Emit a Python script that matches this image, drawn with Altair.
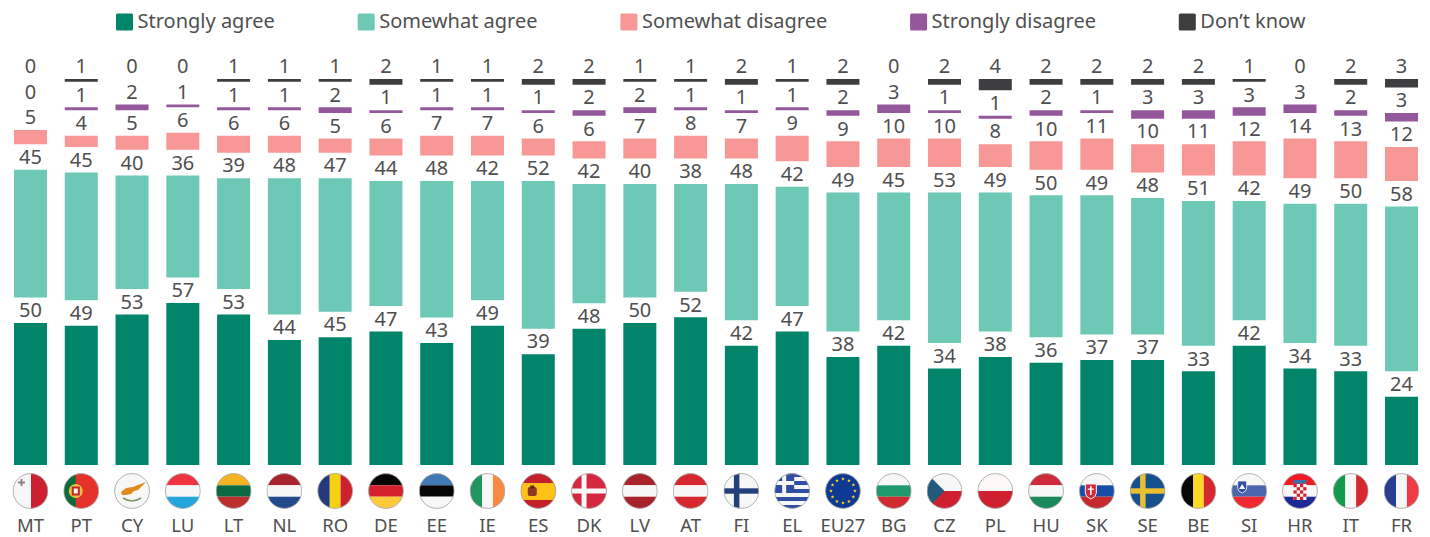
import base64, math
import altair as alt
import pandas as pd

countries = ["MT","PT","CY","LU","LT","NL","RO","DE","EE","IE","ES","DK","LV","AT","FI","EL","EU27","BG","CZ","PL","HU","SK","SE","BE","SI","HR","IT","FR"]
strongly_agree = [50,49,53,57,53,44,45,47,43,49,39,48,50,52,42,47,38,42,34,38,36,37,37,33,42,34,33,24]
somewhat_agree = [45,45,40,36,39,48,47,44,48,42,52,42,40,38,48,42,49,45,53,49,50,49,48,51,42,49,50,58]
somewhat_disagree = [5,4,5,6,6,6,5,6,7,7,6,6,7,8,7,9,9,10,10,8,10,11,10,11,12,14,13,12]
strongly_disagree = [0,1,2,1,1,1,2,1,1,1,1,2,2,1,1,1,2,3,1,1,2,1,3,3,3,3,2,3]
dont_know = [0,1,0,0,1,1,1,2,1,1,2,2,1,1,2,1,2,0,2,4,2,2,2,2,1,0,2,3]

series_names = ["Strongly agree","Somewhat agree","Somewhat disagree","Strongly disagree","Don\u2019t know"]
series_values = [strongly_agree, somewhat_agree, somewhat_disagree, strongly_disagree, dont_know]
series_colors = ["#00856b","#6dc9b6","#f79896","#95579b","#3e3e40"]
TEXT = "#4f4f4f"
FONT = "Noto Sans"
GAP = 8.98  # white space between segments that holds each value label, in percentage points
PX = 2.84   # pixels per percentage point


def rect(x, y, w, h, c):
    return f'<rect x="{x}" y="{y}" width="{w}" height="{h}" fill="{c}"/>'


def hs(a, b, c):
    return rect(0, 0, 36, 12.3, a) + rect(0, 12.3, 36, 11.4, b) + rect(0, 23.7, 36, 12.3, c)


def vs(a, b, c):
    return rect(0, 0, 12.6, 36, a) + rect(12.6, 0, 10.8, 36, b) + rect(23.4, 0, 12.6, 36, c)


def cross(bg, fg, vx=10.5, vw=5.5, hy=15.3, hh=5.4):
    return rect(0, 0, 36, 36, bg) + rect(vx, 0, vw, 36, fg) + rect(0, hy, 36, hh, fg)


def stars():
    out = ""
    for i in range(12):
        a = math.radians(30 * i)
        cx, cy = 18 + 12 * math.sin(a), 18 - 12 * math.cos(a)
        pts = []
        for k in range(10):
            r = 2.0 if k % 2 == 0 else 0.85
            b = math.radians(36 * k)
            pts.append(f"{cx + r * math.sin(b):.2f},{cy - r * math.cos(b):.2f}")
        out += f'<polygon points="{" ".join(pts)}" fill="#f7d417"/>'
    return out


def checker():
    out = rect(11.5, 11, 13, 16, "#f7f7f7")
    for r in range(5):
        for c in range(4):
            if (r + c) % 2 == 0:
                out += rect(11.5 + c * 3.25, 11 + r * 3.2, 3.25, 3.2, "#d8202a")
    return out


def greek():
    out = rect(0, 0, 36, 36, "#f7f7f7")
    for i in range(0, 9, 2):
        out += rect(0, i * 4, 36, 4, "#2f4fa3")
    out += rect(0, 0, 20, 20, "#2f4fa3") + rect(8, 0, 4, 20, "#f7f7f7") + rect(0, 8, 20, 4, "#f7f7f7")
    return out


flag_art = {
    "MT": rect(0, 0, 36, 36, "#f7f7f7") + rect(18.5, 0, 17.5, 36, "#cc2030") + rect(8, 6, 2, 7, "#8f8585") + rect(5.5, 8.5, 7, 2, "#8f8585"),
    "PT": rect(0, 0, 36, 36, "#e5322d") + rect(0, 0, 12.5, 36, "#0b6b3a")
          + '<circle cx="12.5" cy="18" r="7" fill="#e8c33a"/><rect x="8.5" y="13.5" width="8" height="9" fill="#c8252c"/><rect x="10.5" y="15.5" width="4" height="5" fill="#f7f7f7"/>',
    "CY": rect(0, 0, 36, 36, "#f7f7f7")
          + '<path d="M7 19 L12 15 L19 14 L24 12 L32 9 L27 14 L24 17 L20 18 L17 21 L12 22 L8 22 Z" fill="#e08a20"/>'
          + '<path d="M9 25 Q18 31 27 25" fill="none" stroke="#7d9a6a" stroke-width="1.6"/>',
    "LU": hs("#ef3340", "#f7f7f7", "#22a6dc"),
    "LT": hs("#f5b324", "#0a6a44", "#bd2f2f"),
    "NL": hs("#a8232c", "#f7f7f7", "#234a8a"),
    "RO": vs("#233b7e", "#f5d20f", "#cf2030"),
    "DE": hs("#060606", "#d3202c", "#ffc93c"),
    "EE": hs("#3f7ab7", "#060606", "#f7f7f7"),
    "IE": vs("#1f9560", "#f7f7f7", "#f68a42"),
    "ES": rect(0, 0, 36, 36, "#c4202a") + rect(0, 10, 36, 17, "#ffc116")
          + '<rect x="7.5" y="14" width="9" height="9" rx="2" fill="#8a3a22"/><rect x="10" y="12.5" width="4" height="3" fill="#5a2a18"/>',
    "DK": cross("#d3283f", "#f7f7f7", 10.5, 5, 15.5, 5),
    "LV": hs("#a8232c", "#f7f7f7", "#a8232c"),
    "AT": hs("#d7282f", "#f7f7f7", "#d7282f"),
    "FI": cross("#f7f7f7", "#23407a", 10.5, 5.5, 15.3, 5.4),
    "EL": greek(),
    "EU27": rect(0, 0, 36, 36, "#0f3a94") + stars(),
    "BG": hs("#f7f7f7", "#1f9a6e", "#cf2b30"),
    "CZ": rect(0, 0, 36, 18, "#f7f7f7") + rect(0, 18, 36, 18, "#cf2030") + '<polygon points="0,0 18,18 0,36" fill="#1f5a7c"/>',
    "PL": rect(0, 0, 36, 18, "#fdf8f5") + rect(0, 18, 36, 18, "#cf2030"),
    "HU": hs("#cf2a3c", "#f7f7f7", "#1a8a58"),
    "SK": hs("#f7f7f7", "#174da4", "#c62a2f")
          + '<path d="M6.5 11 H17.5 V20 Q17.5 24 12 26 Q6.5 24 6.5 20 Z" fill="#d3283a" stroke="#f7f7f7" stroke-width="1"/><rect x="11.2" y="13" width="1.6" height="9" fill="#f7f7f7"/><rect x="9" y="15.5" width="6" height="1.4" fill="#f7f7f7"/>',
    "SE": cross("#17508f", "#e9c030", 10.5, 5.5, 15.3, 5.4),
    "BE": vs("#060606", "#f9d923", "#d8282f"),
    "SI": hs("#f7f7f7", "#4a66ad", "#ee2a30")
          + '<path d="M6.5 8 H15.5 V15 Q15.5 18.5 11 20 Q6.5 18.5 6.5 15 Z" fill="#2f4fa3" stroke="#f7f7f7" stroke-width=".8"/><polygon points="8,16 11,11 14,16" fill="#f7f7f7"/>',
    "HR": hs("#ef1c25", "#f7f7f7", "#1c2a95") + rect(11.5, 7, 13, 3.6, "#3f6fa8") + checker(),
    "IT": vs("#119a4b", "#f7f7f7", "#d8282f"),
    "FR": vs("#2a3d8f", "#f7f7f7", "#ee3b45"),
}


def flag_uri(body):
    svg = (
        '<svg xmlns="http://www.w3.org/2000/svg" width="36" height="36" viewBox="0 0 36 36">'
        '<defs><clipPath id="c"><circle cx="18" cy="18" r="17.4"/></clipPath></defs>'
        f'<g clip-path="url(#c)">{body}</g>'
        '<circle cx="18" cy="18" r="17.4" fill="none" stroke="#a9a9a9" stroke-width="0.9"/></svg>'
    )
    return "data:image/svg+xml;base64," + base64.b64encode(svg.encode()).decode()


rows = []
for ci, country in enumerate(countries):
    base = 0.0
    for si, name in enumerate(series_names):
        v = series_values[si][ci]
        rows.append({"country": country, "series": name, "value": v, "y0": base, "y1": base + v, "ylabel": base + v + GAP / 2})
        base += v + GAP
df = pd.DataFrame(rows)
flags = pd.DataFrame({"country": countries, "url": [flag_uri(flag_art[c]) for c in countries]})

x_scale = alt.Scale(domain=countries, range=[-2.9, 1418.9], paddingInner=0, paddingOuter=0)
x = alt.X(
    "country:N",
    sort=countries,
    scale=x_scale,
    axis=alt.Axis(title=None, domain=False, ticks=False, labelAngle=0, labelFont=FONT, labelFontSize=18.5,
                  labelColor=TEXT, labelPadding=20, labelBaseline="middle", grid=False),
)
y_scale = alt.Scale(domain=[0, 457 / PX], range=[457, 0], nice=False, zero=False)

bars = alt.Chart(df).mark_bar(width=33, clip=False).encode(
    x=x,
    y=alt.Y("y0:Q", scale=y_scale, axis=None),
    y2="y1:Q",
    color=alt.Color(
        "series:N",
        scale=alt.Scale(domain=series_names, range=series_colors),
        legend=alt.Legend(
            title=None, orient="none", legendX=106.5, legendY=4, direction="horizontal", columns=5,
            columnPadding=80.7, labelLimit=400, symbolSize=290, symbolStrokeWidth=0, symbolOpacity=1,
            symbolType="M-1 -.82 Q-1 -1 -.82 -1 H.82 Q1 -1 1 -.82 V.82 Q1 1 .82 1 H-.82 Q-1 1 -1 .82 Z",
            labelFont=FONT, labelFontSize=20, labelColor=TEXT, labelOffset=3, padding=0,
        ),
    ),
)
labels = alt.Chart(df).mark_text(font=FONT, fontSize=20, color=TEXT, baseline="middle", align="center", dy=1).encode(
    x=alt.X("country:N", sort=countries, scale=x_scale),
    y=alt.Y("ylabel:Q", scale=y_scale, axis=None),
    text="value:Q",
)
images = alt.Chart(flags).mark_image(width=36, height=36).encode(
    x=alt.X("country:N", sort=countries, scale=x_scale),
    y=alt.value(483),
    url="url:N",
)

chart = (
    alt.layer(bars, labels, images)
    .properties(width=1414, height=497, autosize=alt.AutoSizeParams(type="none"),
                padding={"left": 0, "top": 0, "right": 0, "bottom": 32})
    .configure_view(stroke=None)
)
chart.save("out.html", embed_options={"renderer": "svg", "actions": False})
